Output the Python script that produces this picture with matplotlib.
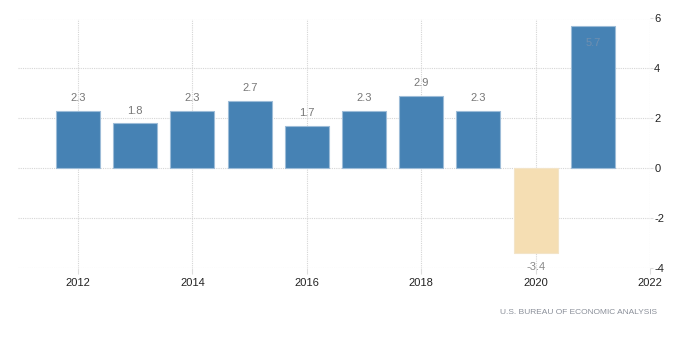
import matplotlib
matplotlib.use("Agg")
import matplotlib.pyplot as plt

years = [2012, 2013, 2014, 2015, 2016, 2017, 2018, 2019, 2020, 2021]
values = [2.3, 1.8, 2.3, 2.7, 1.7, 2.3, 2.9, 2.3, -3.4, 5.7]
xticks = [2012, 2014, 2016, 2018, 2020, 2022]
yticks = [-4, -2, 0, 2, 4, 6]
source = "U.S. BUREAU OF ECONOMIC ANALYSIS"

plt.rcParams['font.family'] = ['Liberation Sans', 'DejaVu Sans']

fig = plt.figure(figsize=(7.0, 3.63), dpi=100)
ax = fig.add_axes([18/700, 1-268/363, (650-18)/700, (268-18.5)/363])

pos_color = '#4682B4'
neg_color = '#F5DEB3'
colors = [pos_color if v >= 0 else neg_color for v in values]
edges = ['#9dbcd8' if v >= 0 else '#f3e4c8' for v in values]
ax.bar(years, values, width=0.77, color=colors, edgecolor=edges, linewidth=0.8, zorder=3)

ax.set_xlim(2010.95, 2022)
ax.set_ylim(-4, 6)
ax.set_xticks(xticks)
ax.set_yticks(yticks)
ax.set_xticklabels([str(t) for t in xticks], fontsize=8, color='#222222')
ax.set_yticklabels([str(t).replace('\u2212', '-') for t in yticks], fontsize=8, color='#222222')
ax.yaxis.tick_right()
ax.tick_params(axis='x', length=4, width=0.8, color='#dddddd', pad=3)
ax.tick_params(axis='y', length=2, width=0.8, color='#dddddd', pad=1)
for s in ax.spines.values():
    s.set_visible(False)
ax.grid(True, linestyle=(0, (1, 1)), color='#d5d5d5', linewidth=0.8, zorder=0)
ax.set_axisbelow(True)

for x, v in zip(years, values):
    if v >= 5.5:
        ax.annotate(f"{v}", (x, v), xytext=(0, -12), textcoords='offset points',
                    ha='center', va='center', fontsize=8, color='#6f8fb0', zorder=4)
    elif v >= 0:
        ax.annotate(f"{v}", (x, v), xytext=(0, 9), textcoords='offset points',
                    ha='center', va='center', fontsize=8, color='#777777', zorder=4)
    else:
        ax.annotate(f"{v}", (x, v), xytext=(0, -10), textcoords='offset points',
                    ha='center', va='center', fontsize=8, color='#888888', zorder=4)

fig.text(657/700, 1-312/363, source, ha='right', va='center', fontsize=6,
         color='#8a8f99')

fig.savefig('out.png', dpi=100)
